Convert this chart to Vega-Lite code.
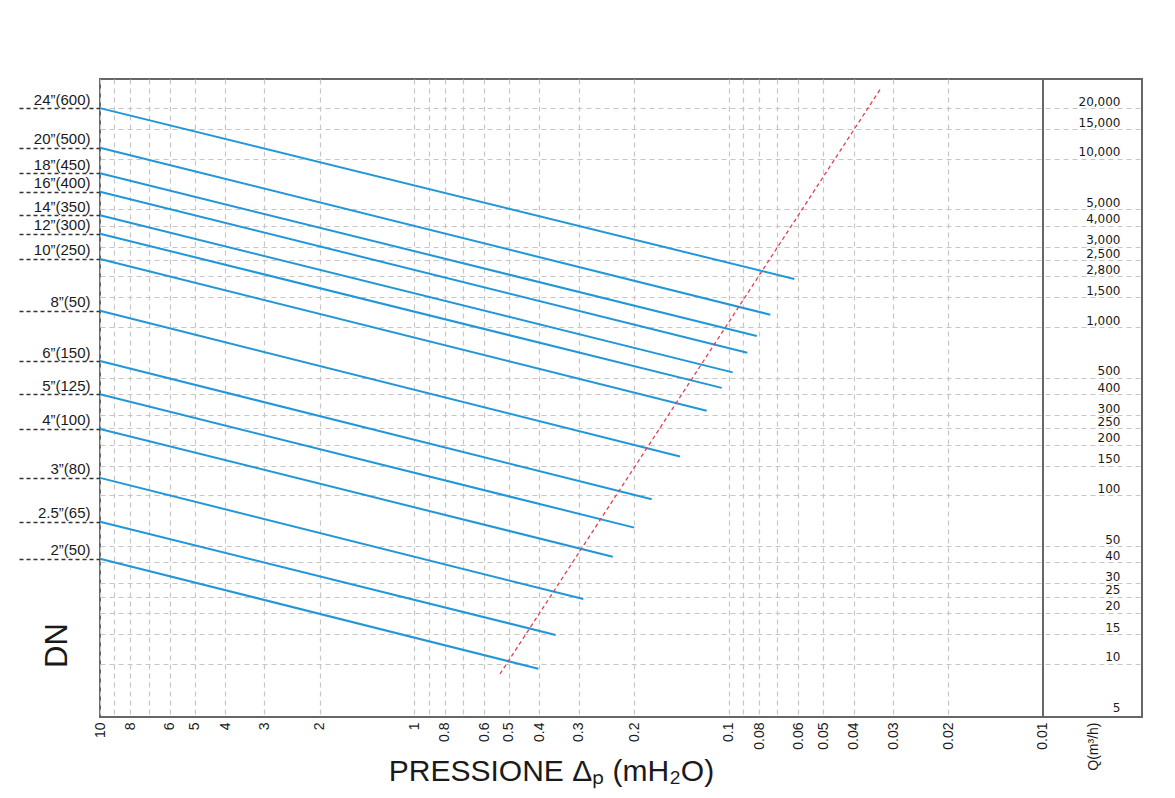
{
  "$schema": "https://vega.github.io/schema/vega-lite/v6.json",
  "width": 1042,
  "height": 638,
  "autosize": {"type": "none"},
  "padding": {"left": 100, "top": 79, "right": 33, "bottom": 81},
  "background": "white",
  "config": {
    "view": {"stroke": "#666666", "strokeWidth": 2},
    "axis": {"labelOverlap": false, "labelFlush": false, "labelBound": false, "domain": false}
  },
  "datasets": {
    "dn": [
      {"dn": "24”(600)", "p": 10, "q": 20000}, {"dn": "24”(600)", "p": 0.0618, "q": 1930},
      {"dn": "20”(500)", "p": 10, "q": 11640}, {"dn": "20”(500)", "p": 0.0737, "q": 1184},
      {"dn": "18”(450)", "p": 10, "q": 8200}, {"dn": "18”(450)", "p": 0.0814, "q": 885},
      {"dn": "16”(400)", "p": 10, "q": 6370}, {"dn": "16”(400)", "p": 0.0872, "q": 704},
      {"dn": "14”(350)", "p": 10, "q": 4614}, {"dn": "14”(350)", "p": 0.0971, "q": 538},
      {"dn": "12”(300)", "p": 10, "q": 3588}, {"dn": "12”(300)", "p": 0.1052, "q": 435},
      {"dn": "10”(250)", "p": 10, "q": 2538}, {"dn": "10”(250)", "p": 0.1175, "q": 318},
      {"dn": "8”(50)", "p": 10, "q": 1250}, {"dn": "8”(50)", "p": 0.1428, "q": 170},
      {"dn": "6”(150)", "p": 10, "q": 628}, {"dn": "6”(150)", "p": 0.1757, "q": 94.8},
      {"dn": "5”(125)", "p": 10, "q": 399}, {"dn": "5”(125)", "p": 0.1996, "q": 64.3},
      {"dn": "4”(100)", "p": 10, "q": 248}, {"dn": "4”(100)", "p": 0.2338, "q": 43.2},
      {"dn": "3”(80)", "p": 10, "q": 127}, {"dn": "3”(80)", "p": 0.29, "q": 24.2},
      {"dn": "2.5”(65)", "p": 10, "q": 69.7}, {"dn": "2.5”(65)", "p": 0.355, "q": 14.8},
      {"dn": "2”(50)", "p": 10, "q": 42}, {"dn": "2”(50)", "p": 0.403, "q": 9.33}
    ],
    "limit": [
      {"p": 0.534, "q": 8.68},
      {"p": 0.0328, "q": 26220}
    ],
    "divider": [
      {"p": 0.01}
    ]
  },
  "layer": [
    {
      "data": {"name": "dn"},
      "mark": {"type": "line", "color": "#2196d8", "strokeWidth": 2},
      "encoding": {
        "detail": {"field": "dn"},
        "x": {
          "field": "p", "type": "quantitative",
          "scale": {"type": "log", "domain": [0.004842, 10], "reverse": true, "nice": false},
          "axis": {
            "orient": "bottom",
            "values": [10, 9, 8, 7, 6, 5, 4, 3, 2, 1, 0.9, 0.8, 0.7, 0.6, 0.5, 0.4, 0.3, 0.2, 0.1, 0.09, 0.08, 0.07, 0.06, 0.05, 0.04, 0.03, 0.02, 0.01, 0.0069],
            "labelExpr": "datum.value == 0.0069 ? 'Q(m³/h)' : (indexof([9, 7, 0.9, 0.7, 0.09, 0.07], datum.value) >= 0 ? '' : '' + datum.value)",
            "labelAngle": 270, "labelAlign": "right", "labelBaseline": "middle",
            "labelPadding": 5, "ticks": false, "tickSize": 0,
            "labelFont": "Liberation Sans", "labelFontSize": 14, "labelColor": "#1a1a1a",
            "grid": true, "gridDash": [5, 4], "gridColor": "#c6c6c6", "gridWidth": 1.2,
            "gridOpacity": {"condition": {"test": "datum.value < 0.0101", "value": 0}, "value": 1},
            "title": "PRESSIONE Δₚ (mH₂O)", "titleFont": "Liberation Sans", "titleFontSize": 30,
            "titleFontWeight": "normal", "titleColor": "#1a1a1a",
            "titleX": 451, "titleY": 63, "titleAlign": "center", "titleBaseline": "alphabetic"
          }
        },
        "y": {
          "field": "q", "type": "quantitative",
          "scale": {"type": "log", "domain": [4.82, 29780], "nice": false},
          "axis": {
            "orient": "left",
            "values": [20000, 11640, 8200, 6370, 4614, 3588, 2538, 1250, 628, 399, 248, 127, 69.7, 42],
            "labelExpr": "['24”(600)', '20”(500)', '18”(450)', '16”(400)', '14”(350)', '12”(300)', '10”(250)', '8”(50)', '6”(150)', '5”(125)', '4”(100)', '3”(80)', '2.5”(65)', '2”(50)'][indexof([20000, 11640, 8200, 6370, 4614, 3588, 2538, 1250, 628, 399, 248, 127, 69.7, 42], datum.value)]",
            "ticks": true, "tickSize": 83, "tickDash": [4, 3], "tickColor": "#333333", "tickWidth": 1.3,
            "labelPadding": -73, "labelAlign": "right", "labelBaseline": "alphabetic", "labelOffset": -4,
            "labelFont": "Liberation Sans", "labelFontSize": 15, "labelColor": "#1a1a1a",
            "grid": false,
            "title": "DN", "titleFont": "Liberation Sans", "titleFontSize": 31, "titleFontWeight": "normal",
            "titleColor": "#1a1a1a", "titleX": -43, "titleY": 566, "titleAngle": 270,
            "titleAlign": "center", "titleBaseline": "middle"
          }
        }
      }
    },
    {
      "data": {"name": "limit"},
      "mark": {"type": "line", "color": "#e0404f", "strokeWidth": 1.3, "strokeDash": [4, 3]},
      "encoding": {
        "x": {
          "field": "p", "type": "quantitative",
          "scale": {"type": "log", "domain": [0.004842, 10], "reverse": true, "nice": false}
        },
        "y": {
          "field": "q", "type": "quantitative",
          "scale": {"type": "log", "domain": [4.82, 29780], "nice": false},
          "axis": {
            "orient": "right",
            "values": [5, 10, 15, 20, 25, 30, 40, 50, 100, 150, 200, 250, 300, 400, 500, 1000, 1500, 2000, 2500, 3000, 4000, 5000, 10000, 15000, 20000],
            "labelExpr": "datum.value == 2000 ? '2,800' : format(datum.value, ',')",
            "labelAlign": "right", "labelBaseline": "alphabetic", "labelOffset": -3,
            "labelPadding": -22, "ticks": false, "tickSize": 0,
            "labelFont": "DejaVu Sans", "labelFontSize": 12, "labelColor": "#1a1a1a",
            "grid": true, "gridDash": [5, 4], "gridColor": "#c6c6c6", "gridWidth": 1.2,
            "gridOpacity": {"condition": {"test": "datum.value < 6", "value": 0}, "value": 1},
            "title": null
          }
        }
      }
    },
    {
      "data": {"name": "divider"},
      "mark": {"type": "rule", "color": "#666666", "strokeWidth": 2},
      "encoding": {
        "x": {
          "field": "p", "type": "quantitative",
          "scale": {"type": "log", "domain": [0.004842, 10], "reverse": true, "nice": false}
        }
      }
    }
  ],
  "resolve": {"axis": {"y": "independent"}}
}
